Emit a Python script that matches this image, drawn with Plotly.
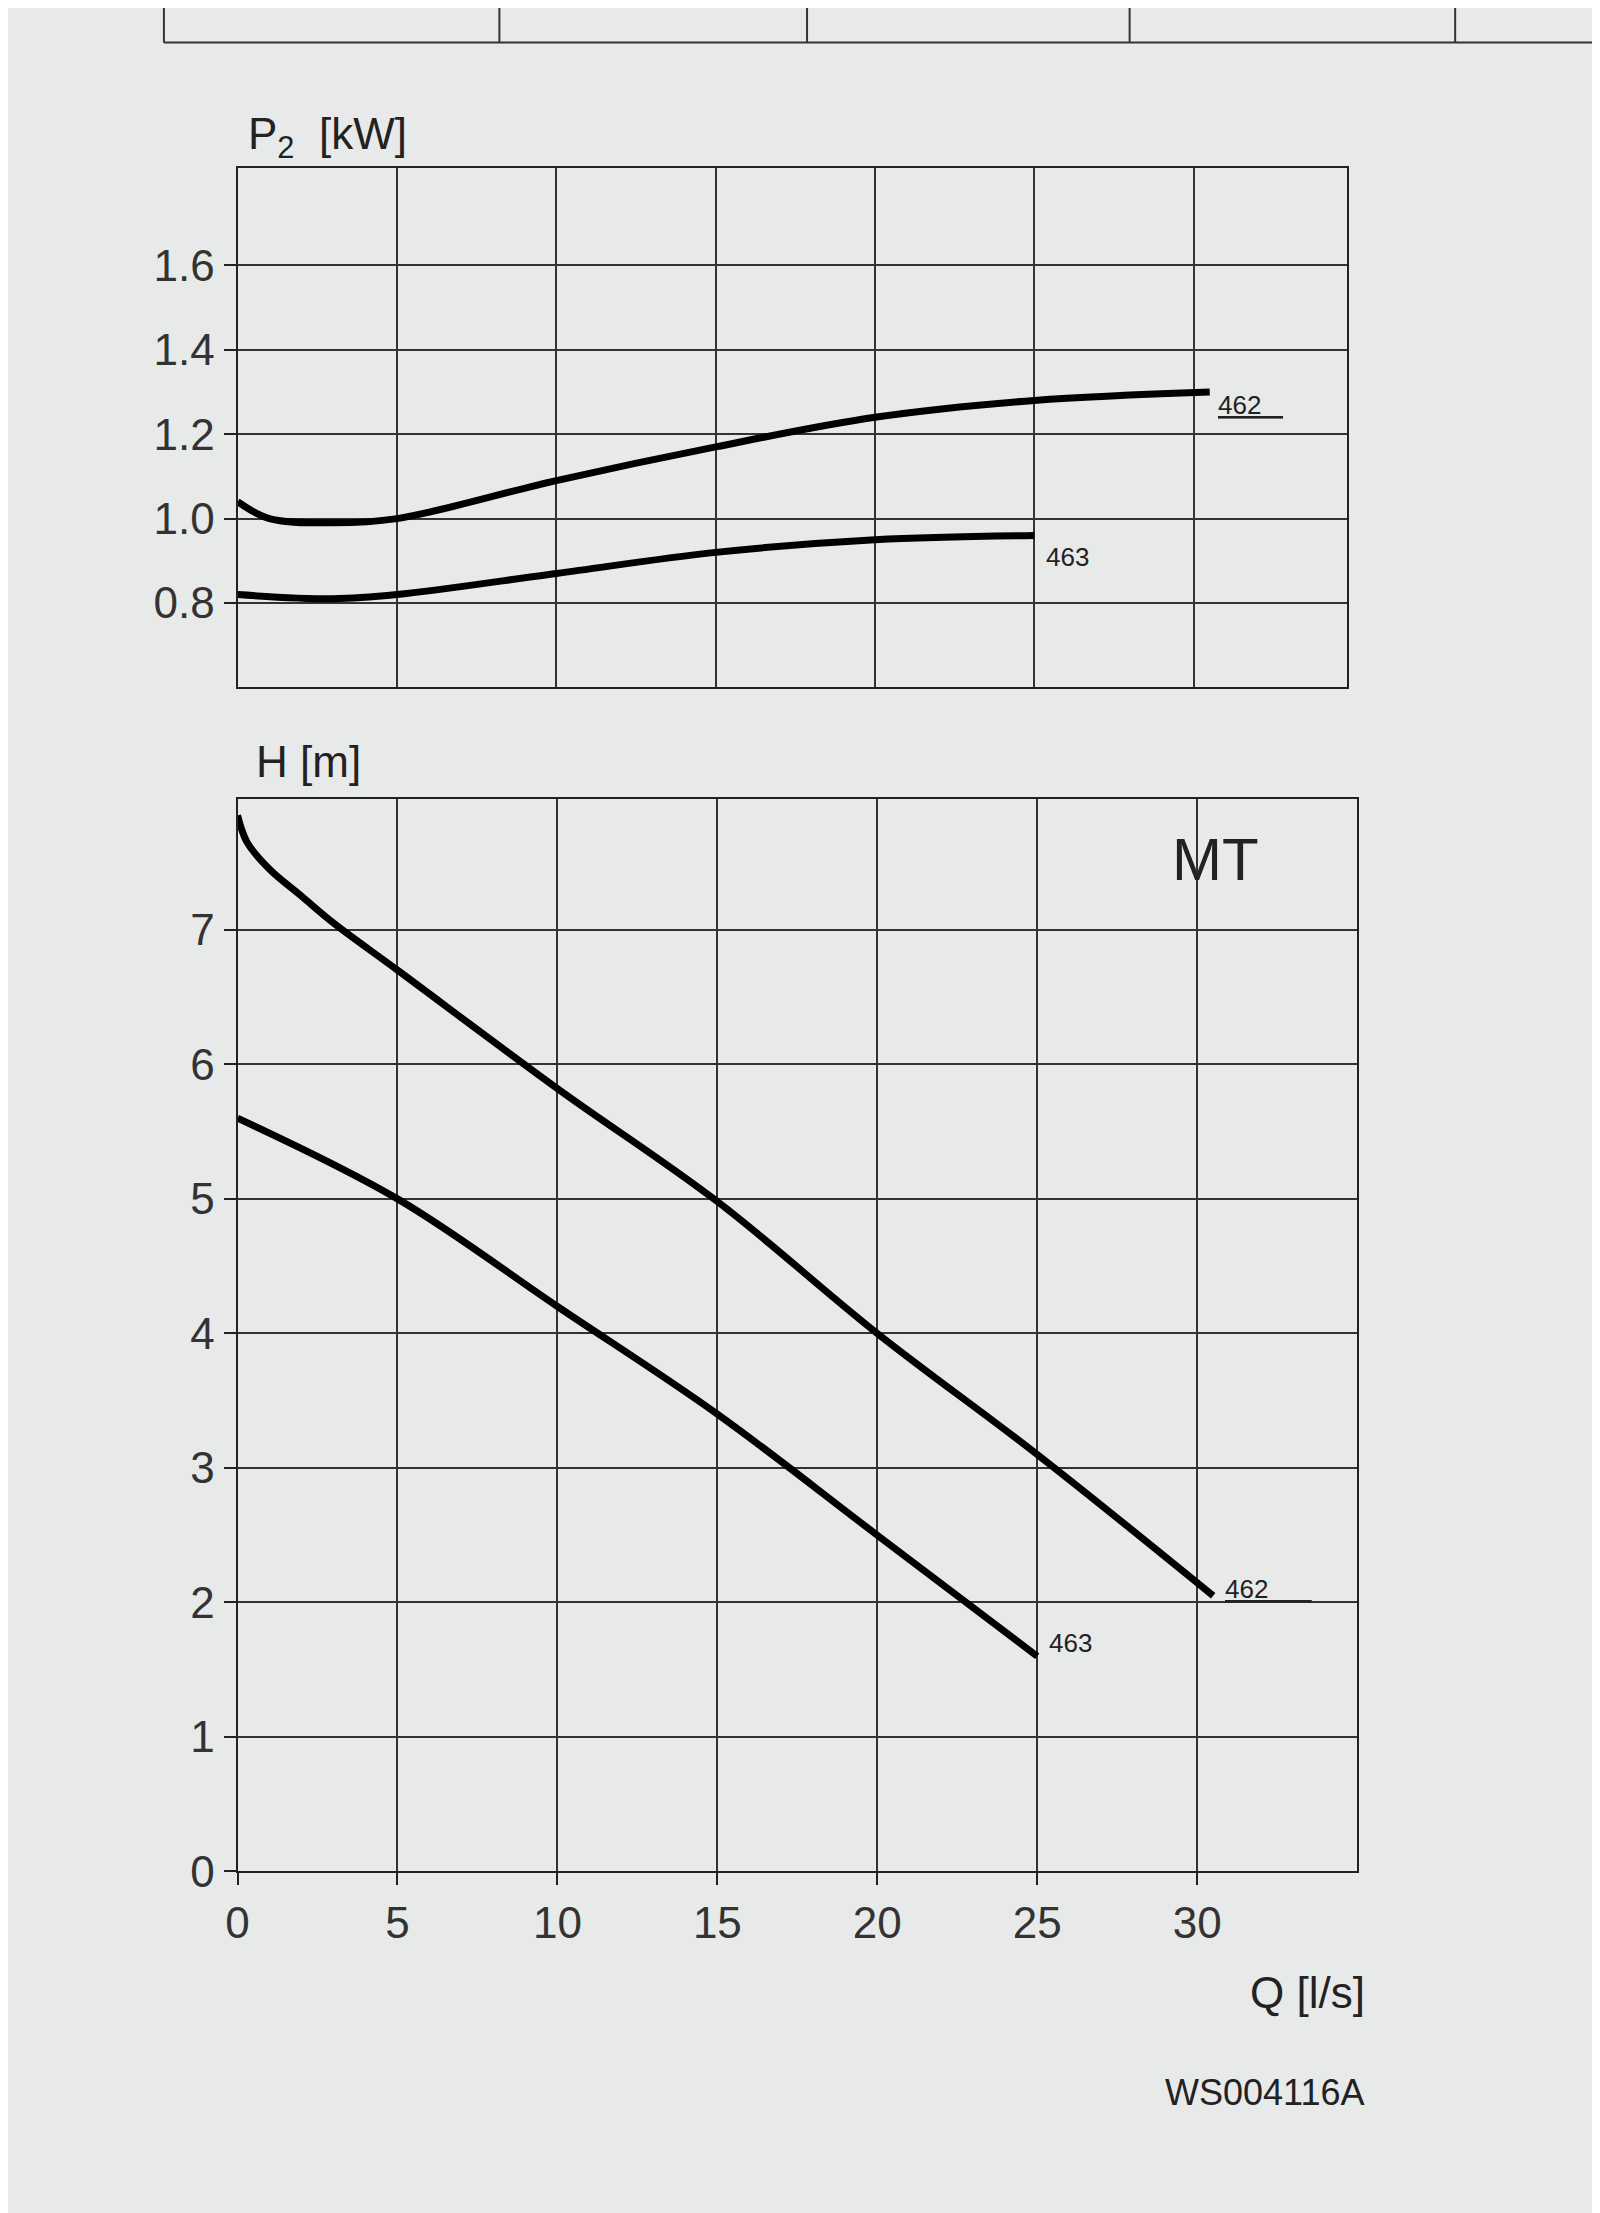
import plotly.graph_objects as go

q462_h = [0, 0.3, 1, 2, 3, 5, 10, 15, 20, 25, 30.5]
h462 = [7.85, 7.65, 7.45, 7.25, 7.05, 6.7, 5.82, 4.98, 4.0, 3.1, 2.05]
q463_h = [0, 5, 10, 15, 20, 25]
h463 = [5.6, 5.0, 4.2, 3.4, 2.5, 1.6]
q462_p = [0, 1, 3, 5, 10, 15, 20, 25, 30.5]
p462 = [1.04, 1.0, 0.99, 1.0, 1.09, 1.17, 1.24, 1.28, 1.30]
q463_p = [0, 3, 5, 10, 15, 20, 25]
p463 = [0.82, 0.81, 0.82, 0.87, 0.92, 0.95, 0.96]
q_ticks = [0, 5, 10, 15, 20, 25, 30]
h_ticks = [0, 1, 2, 3, 4, 5, 6, 7]
p_ticks = [0.8, 1.0, 1.2, 1.4, 1.6]

F = "Liberation Sans, Arial, sans-serif"
line = dict(color="black", width=7, shape="spline", smoothing=1.0)
fig = go.Figure()
fig.add_trace(go.Scatter(x=q462_p, y=p462, mode="lines", line=line, xaxis="x", yaxis="y"))
fig.add_trace(go.Scatter(x=q463_p, y=p463, mode="lines", line=line, xaxis="x", yaxis="y"))
fig.add_trace(go.Scatter(x=q462_h, y=h462, mode="lines", line=line, xaxis="x2", yaxis="y2"))
fig.add_trace(go.Scatter(x=q463_h, y=h463, mode="lines", line=line, xaxis="x2", yaxis="y2"))

ax = dict(showgrid=True, gridcolor="#333", gridwidth=1.5, showline=True, linecolor="#222",
          linewidth=2, mirror=True, zeroline=False, ticks="outside", ticklen=12,
          tickcolor="#222", tickwidth=2, tickfont=dict(family=F, size=44, color="#333"))
fig.update_layout(
    width=1600, height=2213, showlegend=False,
    paper_bgcolor="#e8eae9", plot_bgcolor="#e8eae9",
    margin=dict(l=0, r=0, t=0, b=0),
    xaxis=dict(ax, domain=[0.137, 0.8355], range=[0, 34.8], tickvals=q_ticks,
               showticklabels=False, ticks="", anchor="y"),
    yaxis=dict(ax, domain=[0.6896, 0.9268], range=[0.6, 1.83], tickvals=p_ticks,
               tickformat=".1f", anchor="x"),
    xaxis2=dict(ax, domain=[0.137, 0.842], range=[0, 35], tickvals=q_ticks, anchor="y2"),
    yaxis2=dict(ax, domain=[0.1487, 0.6385], range=[0, 7.97], tickvals=h_ticks, anchor="x2"),
)

def ann(x, y, t, size, xref="paper", yref="paper", xa="left", ya="middle"):
    fig.add_annotation(x=x, y=y, xref=xref, yref=yref, text=t, showarrow=False,
                       xanchor=xa, yanchor=ya, font=dict(family=F, size=size, color="#222"))

ann(228/1600, 1-130/2213, "P<sub>2</sub>  [kW]", 44)
ann(236/1600, 1-762/2213, "H [m]", 44)
ann(1205/1600, 1-861/2213, "MT", 60, xa="center")
ann(1357/1600, 1-2006/2213, "Q [l/s]", 44, xa="right")
ann(1356/1600, 1-2107/2213, "WS004116A", 36, xa="right")
ann(30.7, 1.27, "<u>462   </u>", 26, "x", "y")
ann(25.3, 0.91, "463", 26, "x", "y")
ann(30.8, 2.1, "<u>462      </u>", 26, "x2", "y2")
ann(25.3, 1.7, "463", 26, "x2", "y2")

fig.add_shape(type="line", xref="paper", yref="paper", x0=145/1600, x1=1, y0=1-35/2213, y1=1-35/2213,
              line=dict(color="#333", width=2))
for xv in [145, 483, 793, 1118, 1446]:
    fig.add_shape(type="line", xref="paper", yref="paper", x0=xv/1600, x1=xv/1600, y0=1, y1=1-35/2213,
                  line=dict(color="#333", width=2))

fig.write_html("out.html")
